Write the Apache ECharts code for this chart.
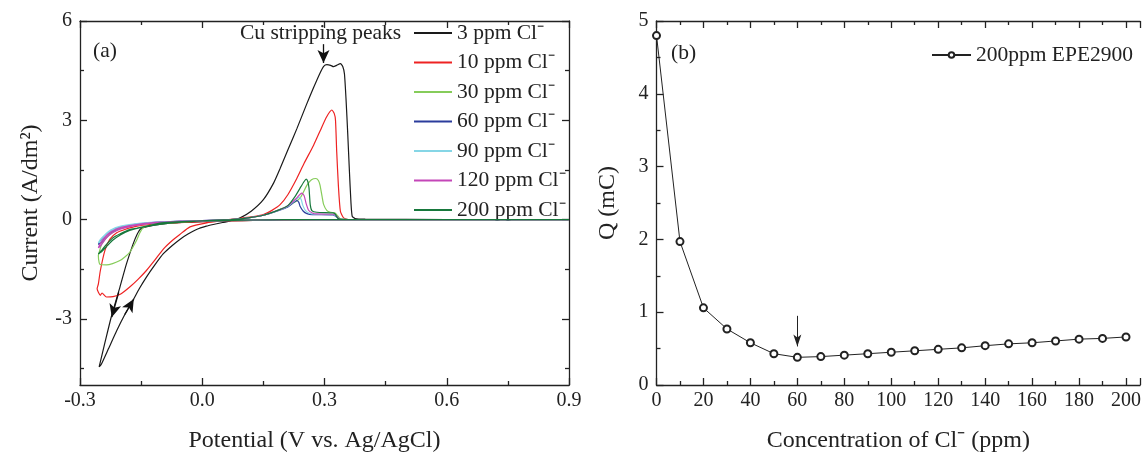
<!DOCTYPE html>
<html><head><meta charset="utf-8">
<script src="https://cdn.jsdelivr.net/npm/echarts@6/dist/echarts.min.js"></script>
<style>html,body{margin:0;padding:0;background:#fff}#c{width:1144px;height:458px}</style>
</head><body><div id="c"></div>
<script>
// ---------- Panel (a): cyclic voltammograms, [potential (V), current (A/dm2)] ----------
const cv3 = [[0.9,0],[0.5,0],[0.38,0],[0.2,-0.01],[0.1,-0.03],[0.0,-0.06],[-0.05,-0.09],[-0.1,-0.14],[-0.13,-0.2],[-0.15,-0.27],[-0.16,-0.45],[-0.17,-0.75],[-0.186,-1.34],[-0.202,-2.04],[-0.223,-2.93],[-0.239,-3.73],[-0.253,-4.45],
  [-0.248,-4.38],[-0.23,-3.9],[-0.21,-3.36],[-0.19,-2.87],[-0.17,-2.44],[-0.155,-2.1],[-0.137,-1.74],[-0.115,-1.35],[-0.096,-1.04],[-0.075,-0.8],[-0.055,-0.6],[-0.035,-0.44],[-0.014,-0.3],[0.01,-0.2],[0.027,-0.15],[0.05,-0.09],[0.068,-0.05],[0.093,0.05],[0.12,0.25],[0.15,0.6],[0.175,1.1],[0.191,1.54],[0.21,2.1],[0.232,2.74],[0.255,3.45],[0.273,3.98],[0.288,4.4],[0.298,4.63],[0.306,4.68],[0.315,4.66],[0.322,4.62],[0.33,4.66],[0.339,4.71],[0.345,4.62],[0.349,4.4],[0.353,3.6],[0.357,2.6],[0.361,1.5],[0.365,0.5],[0.368,0.1],[0.375,0.03],[0.4,0.01],[0.6,0],[0.9,0]];
const cv10 = [[0.9,0],[0.36,0],[0.2,-0.01],[0.1,-0.03],[0.0,-0.06],[-0.1,-0.12],[-0.16,-0.2],[-0.19,-0.3],[-0.21,-0.4],[-0.227,-0.6],[-0.239,-0.94],[-0.25,-1.54],[-0.255,-1.95],[-0.258,-2.09],[-0.25,-2.29],[-0.246,-2.22],[-0.235,-2.34],
  [-0.219,-2.33],[-0.2,-2.25],[-0.178,-2.04],[-0.157,-1.8],[-0.137,-1.54],[-0.116,-1.22],[-0.096,-0.9],[-0.075,-0.65],[-0.055,-0.45],[-0.03,-0.22],[0.011,-0.1],[0.05,-0.03],[0.08,0.02],[0.12,0.08],[0.15,0.15],[0.17,0.27],[0.191,0.45],[0.21,0.75],[0.232,1.24],[0.25,1.7],[0.273,2.24],[0.29,2.7],[0.305,3.1],[0.318,3.31],[0.324,3.2],[0.327,3.0],[0.33,2.04],[0.334,1.04],[0.339,0.25],[0.347,0.05],[0.36,0],[0.9,0]];
const cv30 = [[0.9,0],[0.2,0],[0.1,-0.02],[0.0,-0.04],[-0.1,-0.09],[-0.15,-0.14],[-0.194,-0.25],[-0.215,-0.35],[-0.227,-0.45],[-0.24,-0.62],[-0.247,-0.75],[-0.252,-0.95],[-0.255,-1.09],[-0.253,-1.3],[-0.25,-1.36],
  [-0.235,-1.37],[-0.22,-1.33],[-0.202,-1.24],[-0.19,-1.13],[-0.178,-0.99],[-0.17,-0.83],[-0.162,-0.65],[-0.153,-0.4],[-0.145,-0.25],[-0.13,-0.18],[-0.1,-0.13],[-0.05,-0.08],[0.0,-0.04],[0.07,0],[0.1,0.03],[0.15,0.13],[0.19,0.3],[0.22,0.48],[0.24,0.65],[0.257,1.04],[0.268,1.2],[0.279,1.24],[0.285,1.18],[0.289,1.04],[0.294,0.7],[0.298,0.45],[0.306,0.27],[0.315,0.22],[0.326,0.2],[0.333,0.1],[0.339,0.02],[0.36,0],[0.9,0]];
const cv60 = [[0.9,0],[0.2,0],[0.1,-0.02],[0.0,-0.04],[-0.1,-0.07],[-0.15,-0.12],[-0.2,-0.22],[-0.225,-0.35],[-0.24,-0.5],[-0.25,-0.65],[-0.255,-0.75],
  [-0.25,-0.72],[-0.235,-0.48],[-0.22,-0.35],[-0.202,-0.26],[-0.17,-0.17],[-0.137,-0.12],[-0.1,-0.08],[-0.055,-0.05],[0.0,-0.03],[0.07,0],[0.1,0.03],[0.15,0.13],[0.19,0.28],[0.21,0.38],[0.225,0.52],[0.232,0.57],[0.237,0.52],[0.24,0.4],[0.248,0.25],[0.257,0.18],[0.27,0.15],[0.32,0.14],[0.33,0.08],[0.335,0.01],[0.36,0],[0.9,0]];
const cv90 = [[0.9,0],[0.2,0],[0.1,-0.02],[0.0,-0.04],[-0.1,-0.07],[-0.15,-0.11],[-0.2,-0.2],[-0.225,-0.32],[-0.24,-0.47],[-0.25,-0.6],[-0.255,-0.7],
  [-0.25,-0.67],[-0.235,-0.45],[-0.22,-0.33],[-0.202,-0.25],[-0.17,-0.16],[-0.137,-0.11],[-0.1,-0.08],[-0.055,-0.05],[0.0,-0.03],[0.07,0],[0.1,0.03],[0.15,0.13],[0.19,0.29],[0.21,0.4],[0.228,0.58],[0.238,0.68],[0.243,0.6],[0.247,0.42],[0.254,0.26],[0.263,0.19],[0.275,0.16],[0.322,0.15],[0.331,0.08],[0.336,0.01],[0.36,0],[0.9,0]];
const cv120 = [[0.9,0],[0.2,0],[0.1,-0.02],[0.0,-0.04],[-0.1,-0.08],[-0.15,-0.13],[-0.2,-0.24],[-0.225,-0.38],[-0.24,-0.55],[-0.25,-0.72],[-0.255,-0.85],
  [-0.25,-0.8],[-0.235,-0.55],[-0.22,-0.4],[-0.202,-0.29],[-0.17,-0.19],[-0.137,-0.13],[-0.1,-0.09],[-0.055,-0.05],[0.0,-0.03],[0.07,0],[0.1,0.03],[0.15,0.13],[0.19,0.3],[0.21,0.42],[0.23,0.63],[0.244,0.8],[0.25,0.72],[0.255,0.48],[0.261,0.28],[0.27,0.2],[0.28,0.17],[0.323,0.16],[0.332,0.08],[0.337,0.01],[0.36,0],[0.9,0]];
const cv200 = [[0.9,0],[0.2,0],[0.1,-0.02],[0.0,-0.04],[-0.1,-0.1],[-0.137,-0.2],[-0.16,-0.26],[-0.178,-0.3],[-0.2,-0.42],[-0.219,-0.55],[-0.235,-0.75],[-0.245,-0.9],[-0.255,-1.04],
  [-0.25,-1.0],[-0.235,-0.82],[-0.219,-0.62],[-0.2,-0.46],[-0.178,-0.33],[-0.15,-0.24],[-0.1,-0.14],[-0.05,-0.08],[0.0,-0.04],[0.07,0],[0.1,0.03],[0.15,0.13],[0.19,0.3],[0.21,0.42],[0.228,0.7],[0.24,0.95],[0.25,1.15],[0.255,1.22],[0.259,1.15],[0.262,0.95],[0.265,0.45],[0.269,0.27],[0.281,0.22],[0.32,0.2],[0.326,0.17],[0.332,0.05],[0.337,0.01],[0.36,0],[0.9,0]];
const cvNames = ['3 ppm Cl\u207B','10 ppm Cl\u207B','30 ppm Cl\u207B','60 ppm Cl\u207B','90 ppm Cl\u207B','120 ppm Cl\u207B','200 ppm Cl\u207B'];
const cvColors = ['#1a1a1a','#ee2222','#86cc5a','#2b3c9c','#86d6e6','#c446b8','#17783c'];
const cvData = [cv3, cv10, cv30, cv60, cv90, cv120, cv200];
const yLabelsA = [-3, 0, 3, 6];
const yMinorA = [-4.5, -1.5, 1.5, 4.5];

// ---------- Panel (b): charge vs chloride concentration ----------
const conc = [0,10,20,30,40,50,60,70,80,90,100,110,120,130,140,150,160,170,180,190,200];
const charge = [4.80,1.97,1.06,0.77,0.58,0.43,0.38,0.39,0.41,0.43,0.45,0.47,0.49,0.51,0.54,0.565,0.58,0.605,0.63,0.64,0.66];
const seriesB = '200ppm EPE2900';

const FONT = '"Liberation Serif","Times New Roman",serif';
const INK = '#222';

const chart = echarts.init(document.getElementById('c'), null, {renderer:'canvas'});

const lineStyleAx = {color: INK, width: 1.3};
function tickAxisBase(extra){ return Object.assign({
  type:'value', axisLine:{show:true, onZero:false, lineStyle:lineStyleAx},
  splitLine:{show:false}, axisLabel:{show:false}
}, extra); }

const gA = {left:80, top:21, width:489, height:368};
const gB = {left:656.5, top:21, right:0, height:368};

const option = {
  animation:false,
  backgroundColor:'#fff',
  textStyle:{fontFamily:FONT},
  grid:[gA, gB],
  xAxis:[
    tickAxisBase({gridIndex:0, min:-0.3, max:0.9, interval:0.3, position:'bottom',
      axisTick:{show:true, inside:true, length:7, lineStyle:lineStyleAx},
      minorTick:{show:true, splitNumber:2, length:4, lineStyle:lineStyleAx},
      axisLabel:{show:true, fontFamily:FONT, fontSize:20, color:INK, margin:6, formatter:v=>v.toFixed(1)},
      name:'Potential (V vs. Ag/AgCl)', nameLocation:'middle', nameGap:44,
      nameTextStyle:{fontFamily:FONT, fontSize:24, color:INK, padding:[0,20,0,0]}}),
    tickAxisBase({gridIndex:0, min:-0.3, max:0.9, interval:0.3, position:'top',
      axisTick:{show:true, inside:true, length:7, lineStyle:lineStyleAx},
      minorTick:{show:true, splitNumber:2, length:4, lineStyle:lineStyleAx}}),
    tickAxisBase({gridIndex:1, min:0, max:206, interval:20, position:'bottom',
      axisTick:{show:true, inside:true, length:7, lineStyle:lineStyleAx},
      minorTick:{show:true, splitNumber:2, length:4, lineStyle:lineStyleAx},
      axisLabel:{show:true, fontFamily:FONT, fontSize:20, color:INK, margin:6, formatter:v=> v>200 ? '' : String(v)},
      name:'Concentration of Cl\u207B (ppm)', nameLocation:'middle', nameGap:44,
      nameTextStyle:{fontFamily:FONT, fontSize:24, color:INK}}),
    tickAxisBase({gridIndex:1, min:0, max:206, interval:20, position:'top',
      axisTick:{show:true, inside:true, length:7, lineStyle:lineStyleAx},
      minorTick:{show:true, splitNumber:2, length:4, lineStyle:lineStyleAx}})
  ],
  yAxis:[
    tickAxisBase({gridIndex:0, min:-5, max:6, position:'left',
      axisTick:{show:true, inside:true, length:7, lineStyle:lineStyleAx, customValues:yLabelsA},
      axisLabel:{show:true, fontFamily:FONT, fontSize:20, color:INK, margin:8, customValues:yLabelsA},
      name:'Current (A/dm\u00B2)', nameLocation:'middle', nameGap:37,
      nameTextStyle:{fontFamily:FONT, fontSize:24, color:INK}}),
    tickAxisBase({gridIndex:0, min:-5, max:6, position:'right',
      axisTick:{show:true, inside:true, length:7, lineStyle:lineStyleAx, customValues:yLabelsA}}),
    tickAxisBase({gridIndex:0, min:-5, max:6, position:'left', axisLine:{show:false, onZero:false},
      axisTick:{show:true, inside:true, length:4, lineStyle:lineStyleAx, customValues:yMinorA}}),
    tickAxisBase({gridIndex:0, min:-5, max:6, position:'right', axisLine:{show:false, onZero:false},
      axisTick:{show:true, inside:true, length:4, lineStyle:lineStyleAx, customValues:yMinorA}}),
    tickAxisBase({gridIndex:1, min:0, max:5, interval:1, position:'left',
      axisTick:{show:true, inside:true, length:7, lineStyle:lineStyleAx},
      minorTick:{show:true, splitNumber:2, length:4, lineStyle:lineStyleAx},
      axisLabel:{show:true, fontFamily:FONT, fontSize:20, color:INK, margin:8},
      name:'Q (mC)', nameLocation:'middle', nameGap:37,
      nameTextStyle:{fontFamily:FONT, fontSize:24, color:INK}})
  ],
  legend:[
    {data:cvNames.map(n=>({name:n, icon:'rect'})), orient:'vertical', left:414, top:22, padding:0,
     itemWidth:38, itemHeight:2, itemGap:7.5, itemStyle:{borderWidth:0},
     textStyle:{fontFamily:FONT, fontSize:21.5, color:INK}, selectedMode:false},
    {data:[seriesB], left:931, top:44, padding:0, itemWidth:39, itemHeight:7, itemGap:4,
     textStyle:{fontFamily:FONT, fontSize:21.5, color:INK}, selectedMode:false}
  ],
  series: cvData.map((d,i)=>({
    name:cvNames[i], type:'line', xAxisIndex:0, yAxisIndex:0, data:d,
    showSymbol:false, symbol:'none', smooth:0.2,
    lineStyle:{color:cvColors[i], width:1.2}, itemStyle:{color:cvColors[i]},
    emphasis:{disabled:true}, z: 2+i,
    markLine: i===0 ? {
      silent:true, symbol:['none','arrow'], symbolSize:[9,13],
      label:{show:false}, lineStyle:{color:'#111', width:1.3, type:'solid'},
      data:[
        [{coord:[0.2975,5.3]},{coord:[0.2975,4.73]}],
        [{coord:[-0.205,-2.2]},{coord:[-0.222,-2.95]}],
        [{coord:[-0.19,-2.87]},{coord:[-0.168,-2.4]}]
      ]} : undefined
  })).concat([{
    name:seriesB, type:'line', xAxisIndex:2, yAxisIndex:4,
    data: conc.map((c,i)=>[c, charge[i]]),
    symbol:'emptyCircle', symbolSize:7, showSymbol:true,
    lineStyle:{color:INK, width:1}, itemStyle:{color:INK, borderWidth:1}, emphasis:{disabled:true},
    markLine:{silent:true, symbol:['none','arrow'], symbolSize:[6,12], label:{show:false},
      lineStyle:{color:INK, width:1, type:'solid'},
      data:[[{coord:[60,0.95]},{coord:[60,0.53]}]]}
  }]),
  graphic:[
    {type:'text', left:93, top:40, style:{text:'(a)', font:'21.5px '+FONT, fill:INK}},
    {type:'text', left:240, top:22, style:{text:'Cu stripping peaks', font:'21.5px '+FONT, fill:INK}},
    {type:'text', left:671, top:42, style:{text:'(b)', font:'21.5px '+FONT, fill:INK}}
  ]
};
chart.setOption(option);
</script></body></html>
